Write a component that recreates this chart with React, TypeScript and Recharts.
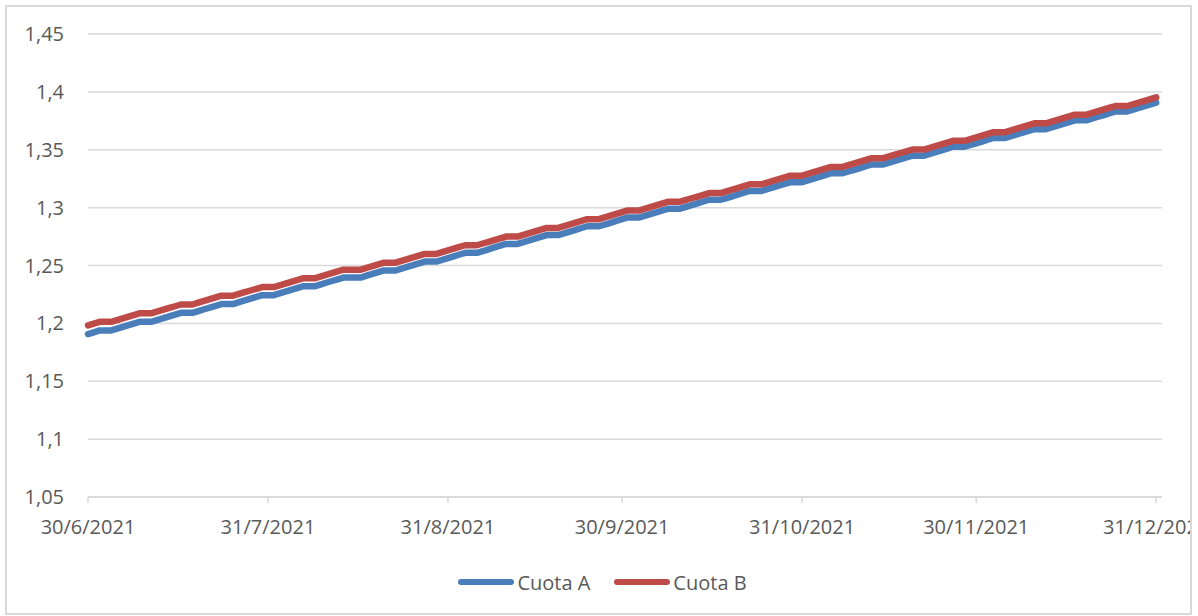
import React from "react";
import {
  LineChart,
  Line,
  XAxis,
  YAxis,
  CartesianGrid,
  Legend,
} from "recharts";

// one value per calendar day, 30/6/2021 .. 31/12/2021 (weekends flat)
const cuotaA = [
  1.1908, 1.1923, 1.1939, 1.1939, 1.1939, 1.1954, 1.1969,
  1.1984, 1.2, 1.2015, 1.2015, 1.2015, 1.203, 1.2045,
  1.2061, 1.2076, 1.2091, 1.2091, 1.2091, 1.2106, 1.2122,
  1.2137, 1.2152, 1.2167, 1.2167, 1.2167, 1.2183, 1.2198,
  1.2213, 1.2228, 1.2244, 1.2244, 1.2244, 1.2259, 1.2274,
  1.229, 1.2305, 1.232, 1.232, 1.232, 1.2335, 1.2351,
  1.2366, 1.2381, 1.2396, 1.2396, 1.2396, 1.2396, 1.2412,
  1.2427, 1.2442, 1.2457, 1.2457, 1.2457, 1.2473, 1.2488,
  1.2503, 1.2518, 1.2534, 1.2534, 1.2534, 1.2549, 1.2564,
  1.2579, 1.2595, 1.261, 1.261, 1.261, 1.2625, 1.264,
  1.2656, 1.2671, 1.2686, 1.2686, 1.2686, 1.2702, 1.2717,
  1.2732, 1.2747, 1.2763, 1.2763, 1.2763, 1.2778, 1.2793,
  1.2808, 1.2824, 1.2839, 1.2839, 1.2839, 1.2854, 1.2869,
  1.2885, 1.29, 1.2915, 1.2915, 1.2915, 1.293, 1.2946,
  1.2961, 1.2976, 1.2991, 1.2991, 1.2991, 1.3007, 1.3022,
  1.3037, 1.3053, 1.3068, 1.3068, 1.3068, 1.3083, 1.3098,
  1.3114, 1.3129, 1.3144, 1.3144, 1.3144, 1.3159, 1.3175,
  1.319, 1.3205, 1.322, 1.322, 1.322, 1.3236, 1.3251,
  1.3266, 1.3281, 1.3297, 1.3297, 1.3297, 1.3312, 1.3327,
  1.3342, 1.3358, 1.3373, 1.3373, 1.3373, 1.3388, 1.3403,
  1.3419, 1.3434, 1.3449, 1.3449, 1.3449, 1.3465, 1.348,
  1.3495, 1.351, 1.3526, 1.3526, 1.3526, 1.3541, 1.3556,
  1.3571, 1.3587, 1.3602, 1.3602, 1.3602, 1.3617, 1.3632,
  1.3648, 1.3663, 1.3678, 1.3678, 1.3678, 1.3693, 1.3709,
  1.3724, 1.3739, 1.3754, 1.3754, 1.3754, 1.377, 1.3785,
  1.38, 1.3816, 1.3831, 1.3831, 1.3831, 1.3846, 1.3861,
  1.3877, 1.3892, 1.3907,
];

const cuotaB = [
  1.1983, 1.1998, 1.2013, 1.2013, 1.2013, 1.2028, 1.2043,
  1.2058, 1.2073, 1.2088, 1.2088, 1.2088, 1.2103, 1.2118,
  1.2133, 1.2148, 1.2163, 1.2163, 1.2163, 1.2179, 1.2194,
  1.2209, 1.2224, 1.2239, 1.2239, 1.2239, 1.2254, 1.2269,
  1.2284, 1.2299, 1.2314, 1.2314, 1.2314, 1.2329, 1.2344,
  1.2359, 1.2374, 1.2389, 1.2389, 1.2389, 1.2404, 1.2419,
  1.2434, 1.2449, 1.2464, 1.2464, 1.2464, 1.2464, 1.2479,
  1.2494, 1.251, 1.2524, 1.2524, 1.2524, 1.2539, 1.2555,
  1.257, 1.2585, 1.26, 1.26, 1.26, 1.2615, 1.263,
  1.2645, 1.266, 1.2675, 1.2675, 1.2675, 1.269, 1.2705,
  1.272, 1.2735, 1.275, 1.275, 1.275, 1.2765, 1.278,
  1.2795, 1.281, 1.2825, 1.2825, 1.2825, 1.284, 1.2855,
  1.287, 1.2885, 1.29, 1.29, 1.29, 1.2915, 1.2931,
  1.2946, 1.2961, 1.2976, 1.2976, 1.2976, 1.2991, 1.3006,
  1.3021, 1.3036, 1.3051, 1.3051, 1.3051, 1.3066, 1.3081,
  1.3096, 1.3111, 1.3126, 1.3126, 1.3126, 1.3141, 1.3156,
  1.3171, 1.3186, 1.3201, 1.3201, 1.3201, 1.3216, 1.3231,
  1.3246, 1.3261, 1.3276, 1.3276, 1.3276, 1.3291, 1.3307,
  1.3322, 1.3337, 1.3352, 1.3352, 1.3352, 1.3367, 1.3382,
  1.3397, 1.3412, 1.3427, 1.3427, 1.3427, 1.3442, 1.3457,
  1.3472, 1.3487, 1.3502, 1.3502, 1.3502, 1.3517, 1.3532,
  1.3547, 1.3562, 1.3577, 1.3577, 1.3577, 1.3592, 1.3607,
  1.3622, 1.3637, 1.3652, 1.3652, 1.3652, 1.3667, 1.3683,
  1.3698, 1.3713, 1.3728, 1.3728, 1.3728, 1.3743, 1.3758,
  1.3773, 1.3788, 1.3803, 1.3803, 1.3803, 1.3818, 1.3833,
  1.3848, 1.3863, 1.3878, 1.3878, 1.3878, 1.3893, 1.3908,
  1.3923, 1.3938, 1.3953,
];

// day offsets from 30/6/2021 of the labelled dates
const tickDays = [0, 31, 62, 92, 123, 153, 184];
const tickLabels = [
  "30/6/2021",
  "31/7/2021",
  "31/8/2021",
  "30/9/2021",
  "31/10/2021",
  "30/11/2021",
  "31/12/2021",
];
const yTicks = [1.05, 1.1, 1.15, 1.2, 1.25, 1.3, 1.35, 1.4, 1.45];

const series = [
  { key: "a", name: "Cuota A", color: "#4A7EBB" },
  { key: "b", name: "Cuota B", color: "#BE4B48" },
];

const data = cuotaA.map((v, i) => ({ day: i, a: v, b: cuotaB[i] }));

const FONT = "'Open Sans', sans-serif";
const TEXT = "#595959";
const GRID = "#d9d9d9";

const fmtY = (v: number) => String(+v.toFixed(2)).replace(".", ",");
const fmtX = (v: number) => tickLabels[tickDays.indexOf(v)] ?? "";

const renderLegend = () => (
  <div
    style={{
      display: "flex",
      justifyContent: "center",
      alignItems: "center",
      height: 28,
      gap: 24,
      paddingLeft: 8,
      fontFamily: FONT,
      fontSize: 20,
      color: TEXT,
    }}
  >
    {series.map((s) => (
      <div key={s.key} style={{ display: "flex", alignItems: "center" }}>
        <svg width={56} height={8}>
          <line
            x1={3}
            y1={4}
            x2={53}
            y2={4}
            stroke={s.color}
            strokeWidth={6}
            strokeLinecap="round"
          />
        </svg>
        <span style={{ marginLeft: 3 }}>{s.name}</span>
      </div>
    ))}
  </div>
);

export default function App() {
  return (
    <div
      style={{
        position: "absolute",
        left: 5,
        top: 5,
        width: 1187,
        height: 610,
        boxSizing: "border-box",
        border: `2px solid ${GRID}`,
        overflow: "hidden",
        background: "#fff",
      }}
    >
      <LineChart
        width={1183}
        height={606}
        data={data}
        margin={{ top: 27, right: 28, bottom: 17, left: 0 }}
      >
        <CartesianGrid
          vertical={false}
          stroke={GRID}
          strokeWidth={1.5}
        />
        <XAxis
          dataKey="day"
          type="number"
          domain={[0, 185]}
          ticks={tickDays}
          interval={0}
          tickFormatter={fmtX}
          height={71}
          axisLine={{ stroke: GRID, strokeWidth: 1.5 }}
          tickLine={{ stroke: GRID, strokeWidth: 1.5 }}
          tickSize={6}
          tickMargin={17}
          tick={{ fill: TEXT, fontSize: 20, fontFamily: FONT }}
        />
        <YAxis
          type="number"
          domain={[1.05, 1.45]}
          ticks={yTicks}
          interval={0}
          tickFormatter={fmtY}
          width={81}
          axisLine={false}
          tickLine={false}
          tickSize={0}
          tickMargin={24}
          tick={{ fill: TEXT, fontSize: 20, fontFamily: FONT }}
        />
        <Legend
          verticalAlign="bottom"
          content={renderLegend}
          wrapperStyle={{ left: 0, width: 1183 }}
        />
        {series.map((s) => (
          <Line
            key={s.key}
            dataKey={s.key}
            name={s.name}
            type="linear"
            stroke={s.color}
            strokeWidth={6.5}
            strokeLinejoin="round"
            strokeLinecap="round"
            dot={false}
            activeDot={false}
            isAnimationActive={false}
          />
        ))}
      </LineChart>
    </div>
  );
}
